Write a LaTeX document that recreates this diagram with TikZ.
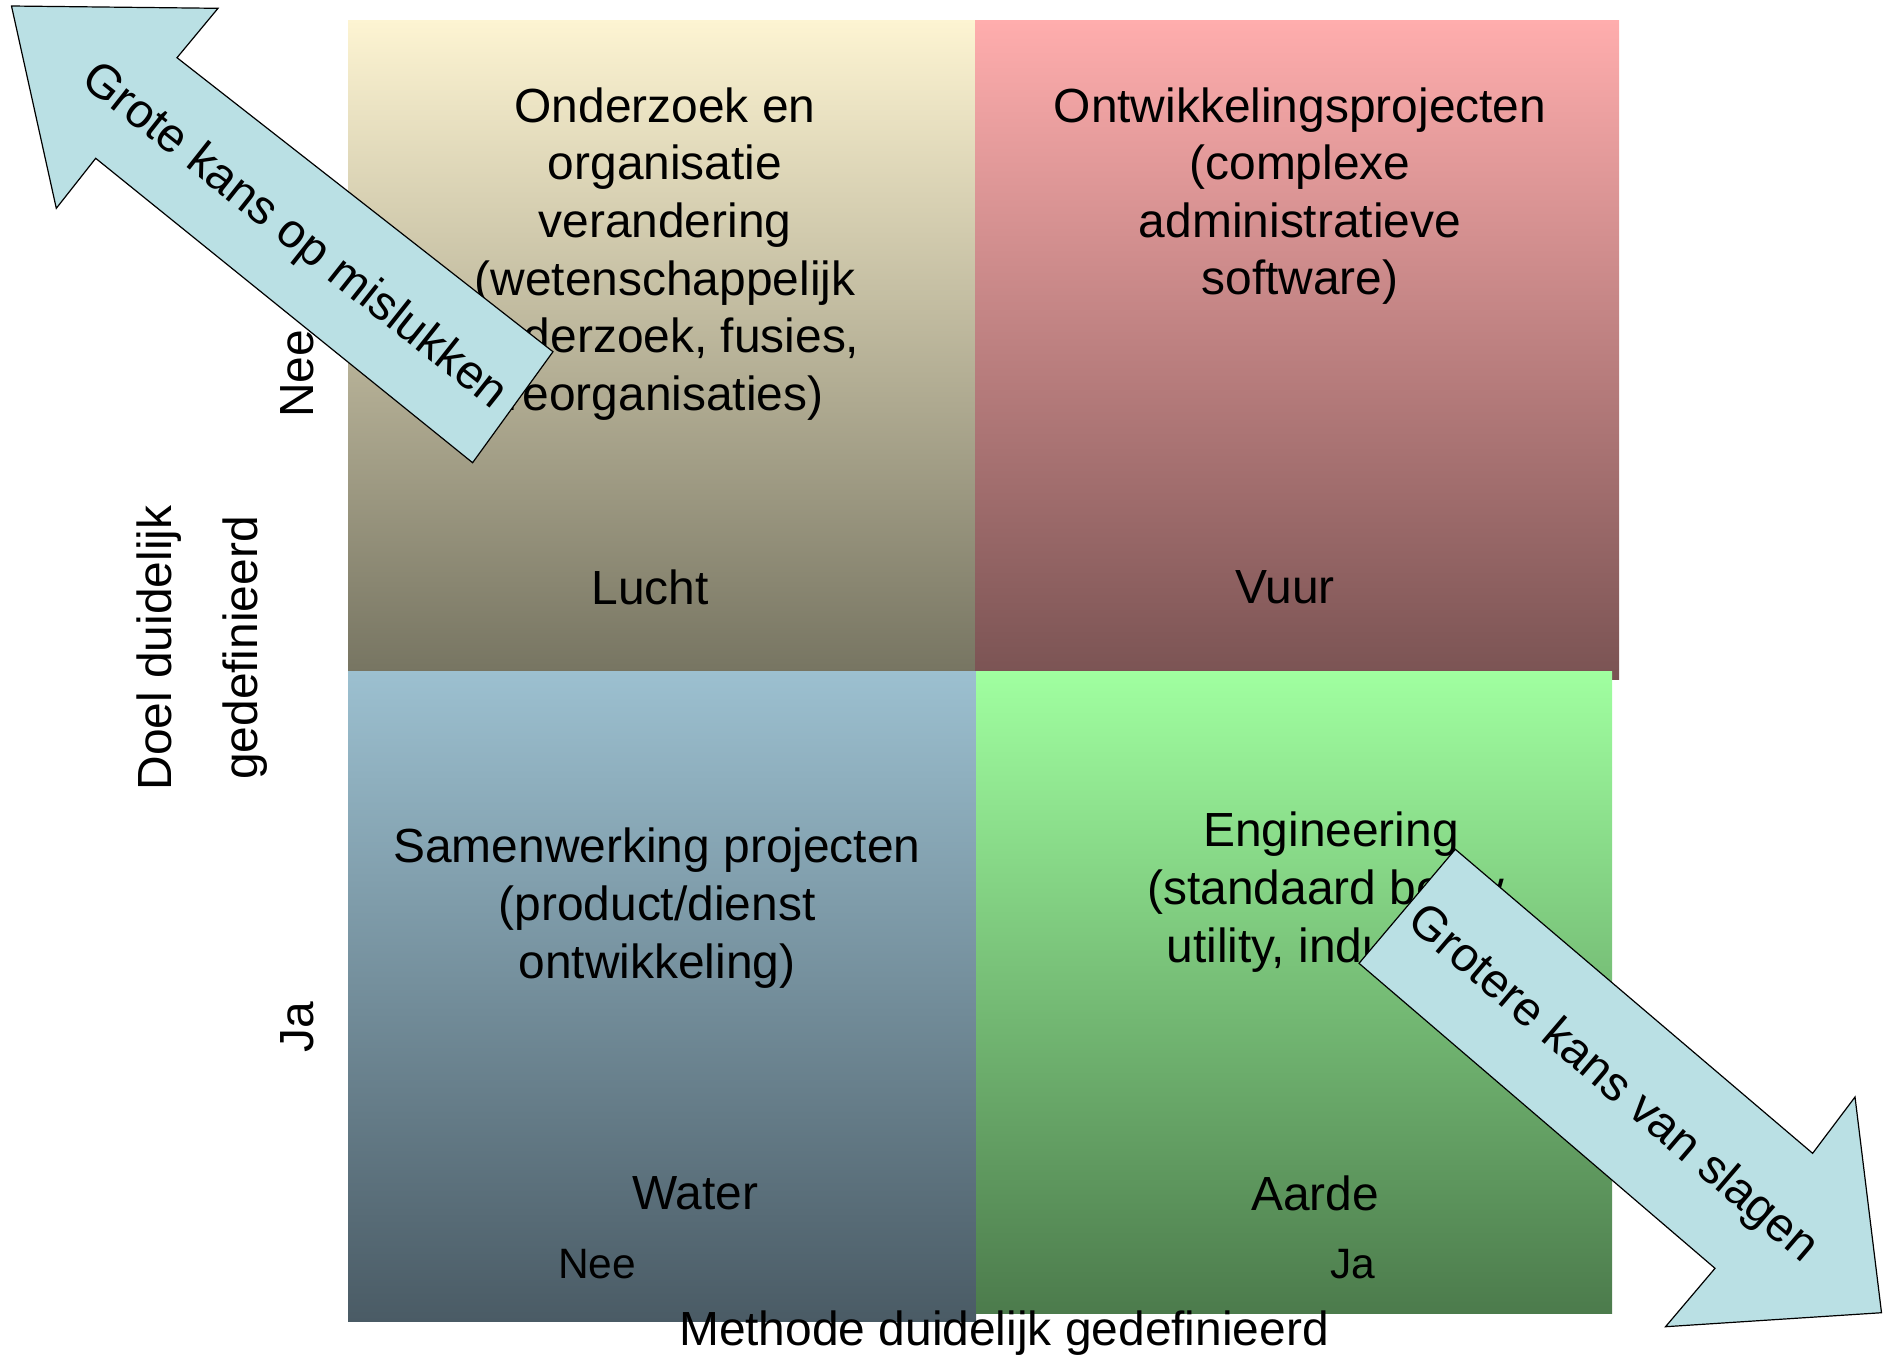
\documentclass[tikz,border=0pt]{standalone}
\usepackage{fontspec}
\setmainfont{Liberation Sans}

% quadrant gradients
\definecolor{tlTop}{HTML}{FDF4D2}
\definecolor{tlMid}{HTML}{CFC6A6}
\definecolor{tlBot}{HTML}{777562}
\definecolor{trTop}{HTML}{FFADAD}
\definecolor{trBot}{HTML}{7A5353}
\definecolor{blTop}{HTML}{9CC0D0}
\definecolor{blBot}{HTML}{4A5B65}
\definecolor{brTop}{HTML}{A0FFA0}
\definecolor{brBot}{HTML}{4C7B4C}
\definecolor{arrowblue}{HTML}{BAE0E4}

\begin{document}
\begin{tikzpicture}[x=0.5pt,y=-0.5pt,
  lbl/.style={font=\fontsize{23.95pt}{28.8pt}\selectfont, inner sep=0pt, align=center, text=black},
  smalllbl/.style={font=\fontsize{21.25pt}{25.5pt}\selectfont, inner sep=0pt, text=black},
  bigarrow/.style={fill=arrowblue, draw=black, line width=0.6pt, line join=miter},
]
\useasboundingbox (0,0) rectangle (1883,1356);

% the four quadrants
\shade[top color=tlTop, middle color=tlMid, bottom color=tlBot] (348,20) rectangle (975,671);
\shade[top color=trTop, bottom color=trBot] (975,20) rectangle (1619,679);
\shade[top color=blTop, bottom color=blBot] (348,671) rectangle (976,1321);
\shade[top color=brTop, bottom color=brBot] (976,671) rectangle (1612,1313);

% quadrant texts
\node[lbl] (tlText) at (665,254) {Onderzoek en\\organisatie\\verandering\\(wetenschappelijk\\onderzoek, fusies,\\reorganisaties)};
\node[lbl] (tlWord) at (650,587) {Lucht};
\node[lbl] (trText) at (1300,196) {Ontwikkelingsprojecten\\(complexe\\administratieve\\software)};
\node[lbl] (trWord) at (1285,587) {Vuur};
\node[lbl] (blText) at (657,908) {Samenwerking projecten\\(product/dienst\\ontwikkeling)};
\node[lbl] (blWord) at (695,1193) {Water};
\node[lbl] (brText) at (1331,892) {Engineering\\(standaard bouw,\\utility, industrie)};
\node[lbl] (brWord) at (1315,1193) {Aarde};

% axis labels
\node[smalllbl] (xNee) at (597,1264) {Nee};
\node[smalllbl] (xJa) at (1353,1264) {Ja};
\node[lbl, anchor=base] (xAxis) at (1004,1345) {Methode duidelijk gedefinieerd};
\node[lbl, rotate=90] (yNee) at (297,374) {Nee};
\node[lbl, rotate=90] (yJa) at (297,1027) {Ja};
\node[lbl, rotate=90, font=\fontsize{23.95pt}{43pt}\selectfont] (yAxis) at (202,648) {Doel duidelijk\\gedefinieerd};

% block arrow towards failure
\coordinate (aTip) at (11.5,6);
\coordinate (aHeadA) at (218,8.3);
\coordinate (aNotchA) at (177,57.7);
\coordinate (aTailA) at (553,351.7);
\coordinate (aTailB) at (472.6,462.7);
\coordinate (aNotchB) at (95.7,158.3);
\coordinate (aHeadB) at (56.3,208.3);
\filldraw[bigarrow] (aTip) -- (aHeadA) -- (aNotchA) -- (aTailA) -- (aTailB) -- (aNotchB) -- (aHeadB) -- cycle;
\node[lbl, rotate=-38.4] (failText) at (294,237) {Grote kans op mislukken};

% block arrow towards success
\coordinate (bTailA) at (1455.3,849.3);
\coordinate (bNotchA) at (1812.6,1153.3);
\coordinate (bHeadA) at (1855,1097);
\coordinate (bTip) at (1881.5,1312.7);
\coordinate (bHeadB) at (1665.5,1326.7);
\coordinate (bNotchB) at (1715,1268.3);
\coordinate (bTailB) at (1359,963.3);
\filldraw[bigarrow] (bTailA) -- (bNotchA) -- (bHeadA) -- (bTip) -- (bHeadB) -- (bNotchB) -- (bTailB) -- cycle;
\node[lbl, rotate=-40.5] (successText) at (1612,1085) {Grotere kans van slagen};
\end{tikzpicture}
\end{document}
